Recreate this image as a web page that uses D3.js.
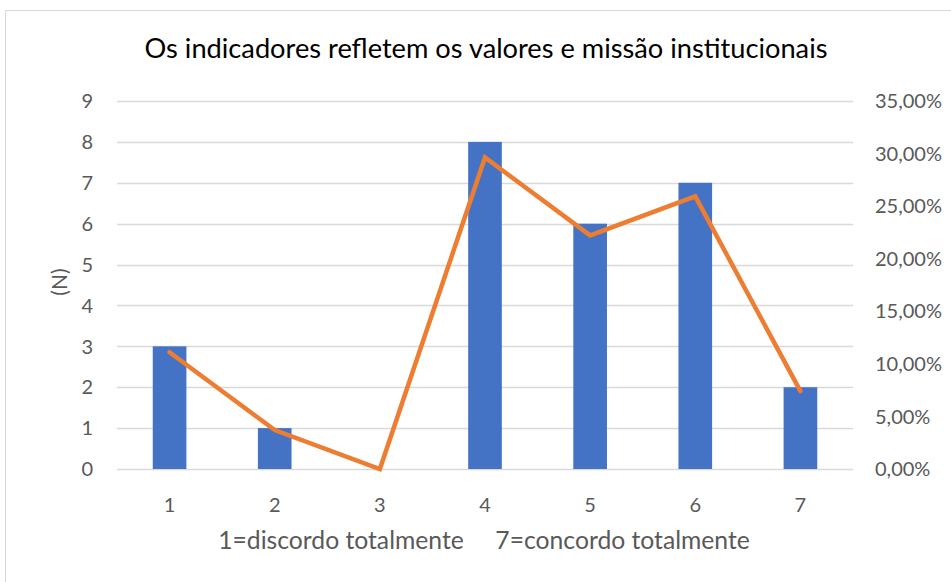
<!DOCTYPE html>
<html>
<head>
<meta charset="utf-8">
<script src="https://cdn.jsdelivr.net/npm/d3@7"></script>
<style>
  body { margin: 0; background: #fff; }
  #app { width: 951px; height: 582px; }
  text { font-family: Lato, "Liberation Sans", sans-serif; fill: #595959; }
</style>
</head>
<body>
<div id="app"></div>
<script>
// data
const categories = ['1', '2', '3', '4', '5', '6', '7'];
const counts = [3, 1, 0, 8, 6, 7, 2];
const percents = [0.1111, 0.0370, 0.0, 0.2963, 0.2222, 0.2593, 0.0741];
const leftTicks = [0, 1, 2, 3, 4, 5, 6, 7, 8, 9];
const rightTicks = [0, 0.05, 0.10, 0.15, 0.20, 0.25, 0.30, 0.35];

(() => {
  const WIDTH = 951, HEIGHT = 582;
  const margin = { top: 101, right: 98, bottom: 113, left: 117 };

  const svg = d3.select('#app').append('svg')
    .attr('width', WIDTH).attr('height', HEIGHT);

  // chart frame
  svg.append('rect')
    .attr('x', 5.5).attr('y', 10.5)
    .attr('width', WIDTH).attr('height', HEIGHT)
    .attr('fill', 'none').attr('stroke', '#d9d9d9');

  const x = d3.scaleBand()
    .domain(categories)
    .range([margin.left, WIDTH - margin.right]);

  const y = d3.scaleLinear()
    .domain([0, 9])
    .range([HEIGHT - margin.bottom, margin.top]);

  const y2 = d3.scaleLinear()
    .domain([0, 0.35])
    .range([HEIGHT - margin.bottom, margin.top]);

  // gridlines
  svg.append('g')
    .selectAll('line')
    .data(leftTicks)
    .join('line')
    .attr('x1', margin.left).attr('x2', WIDTH - margin.right)
    .attr('y1', d => Math.round(y(d)) + 0.5).attr('y2', d => Math.round(y(d)) + 0.5)
    .attr('stroke', '#d9d9d9').attr('stroke-width', 1.5);

  // bars
  const barW = x.bandwidth() * 0.32;
  svg.append('g')
    .selectAll('rect')
    .data(counts)
    .join('rect')
    .attr('fill', '#4472C4')
    .attr('x', (d, i) => x(categories[i]) + x.bandwidth() / 2 - barW / 2)
    .attr('width', barW)
    .attr('y', d => y(d))
    .attr('height', d => y(0) - y(d));

  // line
  const line = d3.line()
    .x((d, i) => x(categories[i]) + x.bandwidth() / 2)
    .y(d => y2(d));

  svg.append('path')
    .datum(percents)
    .attr('d', line)
    .attr('fill', 'none')
    .attr('stroke', '#ED7D31')
    .attr('stroke-width', 4.5)
    .attr('stroke-linejoin', 'miter')
    .attr('stroke-linecap', 'round');

  // left axis labels
  svg.append('g')
    .selectAll('text')
    .data(leftTicks)
    .join('text')
    .attr('x', 93).attr('y', d => y(d))
    .attr('dy', '0.36em')
    .attr('text-anchor', 'end')
    .style('font-size', '20px')
    .text(d => d);

  // right axis labels
  const fmt = d => d3.format('.2f')(d * 100).replace('.', ',') + '%';
  svg.append('g')
    .selectAll('text')
    .data(rightTicks)
    .join('text')
    .attr('x', 875).attr('y', d => y2(d))
    .attr('dy', '0.36em')
    .attr('text-anchor', 'start')
    .style('font-size', '20px')
    .text(fmt);

  // x labels
  svg.append('g')
    .selectAll('text')
    .data(categories)
    .join('text')
    .attr('x', d => x(d) + x.bandwidth() / 2)
    .attr('y', 505)
    .attr('dy', '0.36em')
    .attr('text-anchor', 'middle')
    .style('font-size', '20px')
    .text(d => d);

  // shrink a text's font until it is as wide as the reference
  const fit = (sel, target) => {
    let size = parseFloat(sel.style('font-size'));
    const w = sel.node().getComputedTextLength();
    if (w > 0) sel.style('font-size', (size * target / w) + 'px');
  };

  // axis titles
  const xt = svg.append('text')
    .attr('x', 484).attr('y', 549)
    .attr('text-anchor', 'middle')
    .style('font-size', '22px')
    .attr('xml:space', 'preserve')
    .text('1=discordo totalmente     7=concordo totalmente');
  fit(xt, 532);

  svg.append('text')
    .attr('transform', 'translate(59,282) rotate(-90)')
    .attr('dy', '0.36em')
    .attr('text-anchor', 'middle')
    .style('font-size', '21px')
    .text('(N)');

  // title
  const tt = svg.append('text')
    .attr('x', 486).attr('y', 58)
    .attr('text-anchor', 'middle')
    .style('font-size', '25px')
    .style('fill', '#000')
    .text('Os indicadores refletem os valores e missão institucionais');
  fit(tt, 683);
})();
</script>
</body>
</html>
